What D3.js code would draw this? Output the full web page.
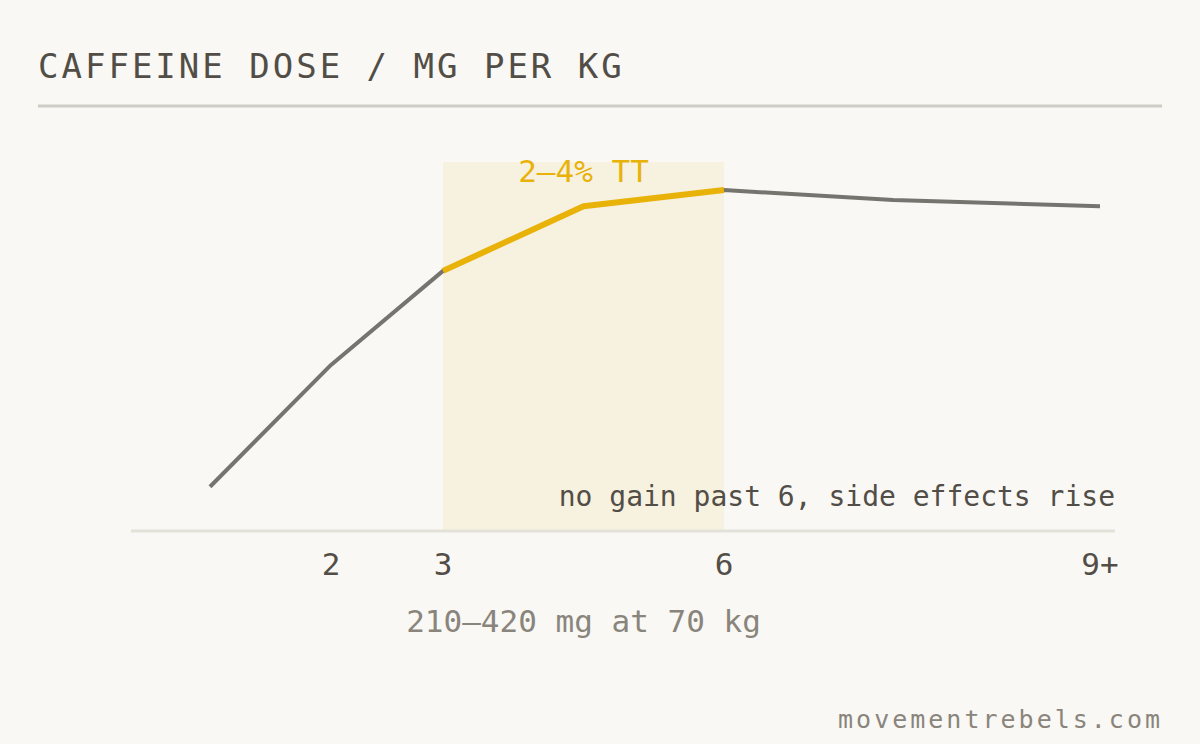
<!DOCTYPE html>
<html>
<head>
<meta charset="utf-8">
<script src="https://cdn.jsdelivr.net/npm/d3@7"></script>
<style>
  html, body { margin: 0; padding: 0; background: #f9f8f4; }
  svg { display: block; font-family: "DejaVu Sans Mono", monospace; }
</style>
</head>
<body>
<div id="chart"></div>
<script>
// dose in mg/kg vs relative performance effect (0-100)
const doses = [1, 2, 3, 4.5, 6, 7.35, 9];
const effect = [12, 45, 70.5, 88, 92.4, 89.7, 88];
const tickValues = [2, 3, 6, 9];
const tickLabels = ["2", "3", "6", "9+"];
const sweetSpot = [3, 6];

const width = 1200, height = 744;

const svg = d3.select("#chart")
  .append("svg")
  .attr("width", width)
  .attr("height", height);

svg.append("rect")
  .attr("width", width)
  .attr("height", height)
  .attr("fill", "#f9f8f4");

// x positions are not evenly spaced, so a piecewise linear scale
const x = d3.scaleLinear()
  .domain([1, 2, 3, 6, 9])
  .range([210, 331, 443, 724, 1100]);

const y = d3.scaleLinear()
  .domain([0, 100])
  .range([531, 162]);

// title + rule
svg.append("text")
  .attr("x", 38)
  .attr("y", 78)
  .attr("font-size", 34)
  .attr("letter-spacing", 3)
  .attr("fill", "#524e47")
  .text("CAFFEINE DOSE / MG PER KG");

svg.append("line")
  .attr("x1", 38).attr("x2", 1162)
  .attr("y1", 106).attr("y2", 106)
  .attr("stroke", "#cfccc6")
  .attr("stroke-width", 3);

// shaded sweet spot
svg.append("rect")
  .attr("x", x(sweetSpot[0]))
  .attr("y", y(100))
  .attr("width", x(sweetSpot[1]) - x(sweetSpot[0]))
  .attr("height", y(0) - y(100))
  .attr("fill", "#f7f1e0");

// baseline
svg.append("line")
  .attr("x1", 131).attr("x2", 1115)
  .attr("y1", y(0)).attr("y2", y(0))
  .attr("stroke", "#e4e1d9")
  .attr("stroke-width", 3);

const pts = doses.map((d, i) => [d, effect[i]]);

const line = d3.line()
  .x(d => x(d[0]))
  .y(d => y(d[1]));

svg.append("path")
  .datum(pts)
  .attr("d", line)
  .attr("fill", "none")
  .attr("stroke", "#76746f")
  .attr("stroke-width", 4)
  .attr("stroke-linejoin", "round");

svg.append("path")
  .datum(pts.filter(d => d[0] >= sweetSpot[0] && d[0] <= sweetSpot[1]))
  .attr("d", line)
  .attr("fill", "none")
  .attr("stroke", "#e8b209")
  .attr("stroke-width", 6)
  .attr("stroke-linejoin", "round");

// annotations
svg.append("text")
  .attr("x", x(4.5))
  .attr("y", 182)
  .attr("text-anchor", "middle")
  .attr("font-size", 31)
  .attr("fill", "#e8b209")
  .text("2–4% TT");

svg.append("text")
  .attr("x", 1115)
  .attr("y", 506)
  .attr("text-anchor", "end")
  .attr("font-size", 28)
  .attr("fill", "#524e47")
  .text("no gain past 6, side effects rise");

// x ticks
svg.append("g")
  .selectAll("text")
  .data(tickValues)
  .enter().append("text")
  .attr("x", d => x(d))
  .attr("y", 575)
  .attr("text-anchor", "middle")
  .attr("font-size", 31)
  .attr("fill", "#524e47")
  .text((d, i) => tickLabels[i]);

svg.append("text")
  .attr("x", x(4.5))
  .attr("y", 632)
  .attr("text-anchor", "middle")
  .attr("font-size", 31)
  .attr("fill", "#8a857c")
  .text("210–420 mg at 70 kg");

svg.append("text")
  .attr("x", 1163)
  .attr("y", 728)
  .attr("text-anchor", "end")
  .attr("font-size", 25)
  .attr("letter-spacing", 3)
  .attr("fill", "#8a857c")
  .text("movementrebels.com");
</script>
</body>
</html>
